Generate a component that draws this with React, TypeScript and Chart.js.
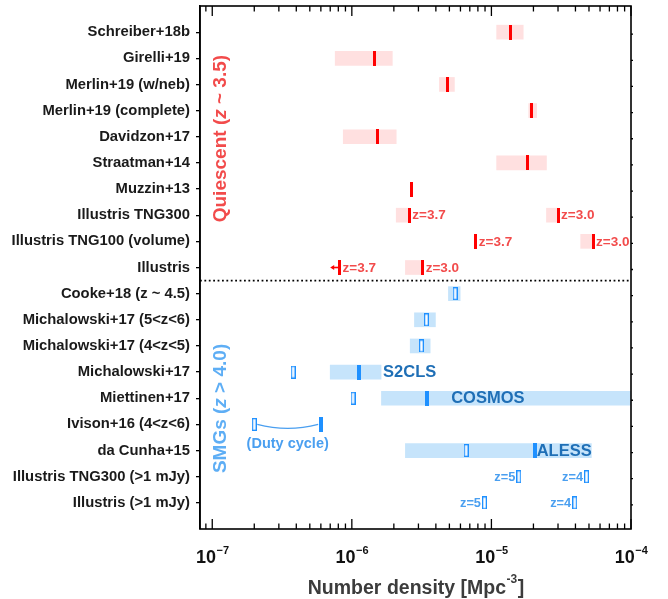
import React, { useEffect, useRef } from 'react';
import { Chart, registerables } from 'chart.js';

Chart.register(...registerables);

// ---------------- data ----------------
const ROWS = [
  'Schreiber+18b',
  'Girelli+19',
  'Merlin+19 (w/neb)',
  'Merlin+19 (complete)',
  'Davidzon+17',
  'Straatman+14',
  'Muzzin+13',
  'Illustris TNG300',
  'Illustris TNG100 (volume)',
  'Illustris',
  'Cooke+18 (z ~ 4.5)',
  'Michalowski+17 (5<z<6)',
  'Michalowski+17 (4<z<5)',
  'Michalowski+17',
  'Miettinen+17',
  'Ivison+16 (4<z<6)',
  'da Cunha+15',
  'Illustris TNG300 (>1 mJy)',
  'Illustris (>1 mJy)',
];

const X_MIN = 8.17e-8;
const X_MAX = 1e-4;
const DECADES = [-7, -6, -5, -4];
const SEPARATOR_AT = 9.5;

// quiescent ranges
const Q_BAND_ROW = [0, 1, 2, 3, 4, 5, 7, 7, 8, 9];
const Q_BAND_LO = [1.09e-5, 7.6e-7, 4.24e-6, 1.85e-5, 8.68e-7, 1.09e-5, 2.08e-6, 2.48e-5, 4.36e-5, 2.42e-6];
const Q_BAND_HI = [1.69e-5, 1.95e-6, 5.43e-6, 2.11e-5, 2.08e-6, 2.48e-5, 2.58e-6, 3.0e-5, 5.35e-5, 3.22e-6];

// quiescent central values
const Q_MARK_ROW = [0, 1, 2, 3, 4, 5, 6, 7, 7, 8, 8, 9, 9];
const Q_MARK_VAL = [1.38e-5, 1.46e-6, 4.86e-6, 1.95e-5, 1.53e-6, 1.8e-5, 2.68e-6, 2.58e-6, 3.0e-5, 7.73e-6, 5.35e-5, 8.16e-7, 3.22e-6];

// upper limit arrow (Illustris z=3.7)
const ARROW_ROW = 9;
const ARROW_FROM = 8.16e-7;
const ARROW_TO = 7.0e-7;

// SMG ranges
const S_BAND_ROW = [10, 11, 12, 13, 14, 16];
const S_BAND_LO = [4.92e-6, 2.81e-6, 2.62e-6, 7.0e-7, 1.63e-6, 2.42e-6];
const S_BAND_HI = [5.97e-6, 3.97e-6, 3.64e-6, 1.62e-6, 1.0e-4, 5.2e-5];

// SMG filled values
const S_FILL_ROW = [13, 14, 15, 16];
const S_FILL_VAL = [1.13e-6, 3.46e-6, 6.03e-7, 2.04e-5];

// SMG open values
const S_OPEN_ROW = [10, 11, 12, 13, 14, 15, 16, 17, 17, 18, 18];
const S_OPEN_VAL = [5.5e-6, 3.42e-6, 3.15e-6, 3.8e-7, 1.02e-6, 2.0e-7, 6.59e-6, 1.57e-5, 4.8e-5, 8.92e-6, 3.95e-5];

// duty-cycle link (Ivison+16)
const DUTY_ROW = 15;
const DUTY_FROM = 2.0e-7;
const DUTY_TO = 6.03e-7;

// text annotations
const LABEL_TEXT = ['z=3.7', 'z=3.0', 'z=3.7', 'z=3.0', 'z=3.7', 'z=3.0', 'S2CLS', 'COSMOS', 'ALESS', 'z=5', 'z=4', 'z=5', 'z=4', '(Duty cycle)'];
const LABEL_ROW = [7, 7, 8, 8, 9, 9, 13, 14, 16, 17, 17, 18, 18, 15.72];
const LABEL_VAL = [2.58e-6, 3.0e-5, 7.73e-6, 5.35e-5, 8.16e-7, 3.22e-6, 1.62e-6, 9.42e-6, 2.04e-5, 1.57e-5, 4.8e-5, 8.92e-6, 3.95e-5, 3.47e-7];
const LABEL_KIND = ['qz', 'qz', 'qz', 'qz', 'qz', 'qz', 'survey', 'surveyC', 'survey', 'smgz', 'smgz', 'smgz', 'smgz', 'note'];

// group labels (rotated)
const GROUP_PRE = ['Quiescent (', 'SMGs ('];
const GROUP_VAR = ['z', 'z'];
const GROUP_POST = [' ~ 3.5)', ' > 4.0)'];
const GROUP_ROW = [4.07, 14.39];

const X_TITLE_MAIN = 'Number density [Mpc';
const X_TITLE_SUP = '-3';
const X_TITLE_END = ']';

// ---------------- styles ----------------
const FONT = "'Liberation Sans', Arial, Helvetica, sans-serif";
const RED = '#ff0000';
const RED_BAND = '#ffe0e0';
const RED_TEXT = '#f24b4b';
const BLUE = '#1e90ff';
const BLUE_BAND = '#c6e4fb';
const BLUE_DARK = '#1f6fb6';
const BLUE_TEXT = '#4a9ff0';
const BLUE_GROUP = '#5eaef5';

const KIND_STYLE: Record<string, { font: string; color: string; align: CanvasTextAlign; dx: number }> = {
  qz: { font: `bold 13.5px ${FONT}`, color: RED_TEXT, align: 'left', dx: 3 },
  survey: { font: `bold 16.5px ${FONT}`, color: BLUE_DARK, align: 'left', dx: 2 },
  surveyC: { font: `bold 16.5px ${FONT}`, color: BLUE_DARK, align: 'center', dx: 0 },
  smgz: { font: `bold 12.8px ${FONT}`, color: BLUE_TEXT, align: 'right', dx: -3.5 },
  note: { font: `bold 14.5px ${FONT}`, color: BLUE_TEXT, align: 'center', dx: 0 },
};

function rectImage(w: number, h: number, fill: string, stroke?: string) {
  const c = document.createElement('canvas');
  c.width = w;
  c.height = h;
  const g = c.getContext('2d')!;
  if (stroke) {
    g.fillStyle = '#ffffff';
    g.fillRect(0, 0, w, h);
    g.strokeStyle = stroke;
    g.lineWidth = 1.3;
    g.strokeRect(0.65, 0.65, w - 1.3, h - 1.3);
  } else {
    g.fillStyle = fill;
    g.fillRect(0, 0, w, h);
  }
  return c;
}

export default function App() {
  const ref = useRef<HTMLCanvasElement>(null);

  useEffect(() => {
    const canvas = ref.current!;
    const redMark = rectImage(3, 15, RED);
    const blueMark = rectImage(4, 15, BLUE);
    const blueOpen = rectImage(5, 13, '', BLUE);

    const overlay = {
      id: 'overlay',
      afterDraw(chart: any) {
        const { ctx, chartArea: a, scales } = chart;
        const xs = scales.x;
        const ys = scales.y;
        ctx.save();

        // separator
        const ySep = ys.getPixelForValue(SEPARATOR_AT);
        ctx.strokeStyle = '#000';
        ctx.setLineDash([1.8, 2.6]);
        ctx.lineWidth = 1.8;
        ctx.beginPath();
        ctx.moveTo(a.left, ySep);
        ctx.lineTo(a.right, ySep);
        ctx.stroke();
        ctx.setLineDash([]);

        // arrow (upper limit)
        const ay = ys.getPixelForValue(ARROW_ROW);
        const ax0 = xs.getPixelForValue(ARROW_FROM);
        const ax1 = xs.getPixelForValue(ARROW_TO);
        ctx.strokeStyle = RED;
        ctx.fillStyle = RED;
        ctx.lineWidth = 1.6;
        ctx.beginPath();
        ctx.moveTo(ax0, ay);
        ctx.lineTo(ax1 + 2, ay);
        ctx.stroke();
        ctx.beginPath();
        ctx.moveTo(ax1, ay);
        ctx.lineTo(ax1 + 4, ay - 2.5);
        ctx.lineTo(ax1 + 4, ay + 2.5);
        ctx.closePath();
        ctx.fill();

        // duty cycle arc
        const dy = ys.getPixelForValue(DUTY_ROW);
        const dx0 = xs.getPixelForValue(DUTY_FROM) + 3;
        const dx1 = xs.getPixelForValue(DUTY_TO) - 3;
        ctx.strokeStyle = BLUE_TEXT;
        ctx.lineWidth = 1.3;
        ctx.beginPath();
        ctx.moveTo(dx0, dy);
        ctx.quadraticCurveTo((dx0 + dx1) / 2, dy + 8, dx1, dy);
        ctx.stroke();

        // text annotations
        ctx.textBaseline = 'middle';
        LABEL_TEXT.forEach((t, i) => {
          const st = KIND_STYLE[LABEL_KIND[i]];
          ctx.font = st.font;
          ctx.fillStyle = st.color;
          ctx.textAlign = st.align;
          ctx.fillText(t, xs.getPixelForValue(LABEL_VAL[i]) + st.dx, ys.getPixelForValue(LABEL_ROW[i]) + 0.5);
        });

        // group labels
        const groupColors = [RED_TEXT, BLUE_GROUP];
        GROUP_PRE.forEach((pre, i) => {
          const normal = `bold 19px ${FONT}`;
          const ital = `italic bold 19px ${FONT}`;
          ctx.font = normal;
          const w1 = ctx.measureText(pre).width;
          const w3 = ctx.measureText(GROUP_POST[i]).width;
          ctx.font = ital;
          const w2 = ctx.measureText(GROUP_VAR[i]).width;
          const total = w1 + w2 + w3;
          ctx.save();
          ctx.translate(a.left + 21, ys.getPixelForValue(GROUP_ROW[i]));
          ctx.rotate(-Math.PI / 2);
          ctx.fillStyle = groupColors[i];
          ctx.textAlign = 'left';
          ctx.textBaseline = 'middle';
          let x = -total / 2;
          ctx.font = normal;
          ctx.fillText(pre, x, 0);
          x += w1;
          ctx.font = ital;
          ctx.fillText(GROUP_VAR[i], x, 0);
          x += w2;
          ctx.font = normal;
          ctx.fillText(GROUP_POST[i], x, 0);
          ctx.restore();
        });

        // frame
        ctx.strokeStyle = '#000';
        ctx.lineWidth = 1.6;
        ctx.strokeRect(a.left, a.top, a.right - a.left, a.bottom - a.top);

        // x ticks (inward, top and bottom)
        ctx.lineWidth = 1.3;
        ctx.beginPath();
        for (let d = -8; d <= -4; d++) {
          for (let m = 1; m <= 9; m++) {
            const v = m * Math.pow(10, d);
            if (v < X_MIN * 0.999 || v > X_MAX * 1.001) continue;
            const px = xs.getPixelForValue(v);
            const len = m === 1 ? 10 : 5.5;
            ctx.moveTo(px, a.bottom);
            ctx.lineTo(px, a.bottom - len);
            ctx.moveTo(px, a.top);
            ctx.lineTo(px, a.top + len);
          }
        }
        // right-side row ticks
        ROWS.forEach((_, i) => {
          const py = ys.getPixelForValue(i) + 2;
          ctx.moveTo(a.right, py);
          ctx.lineTo(a.right + 2, py);
        });
        ctx.stroke();

        // x tick labels with superscripts
        ctx.fillStyle = '#111';
        ctx.textAlign = 'left';
        ctx.textBaseline = 'alphabetic';
        DECADES.forEach((d) => {
          const px = xs.getPixelForValue(Math.pow(10, d));
          ctx.font = `bold 18px ${FONT}`;
          const wb = ctx.measureText('10').width;
          const exp = '\u2212' + String(-d);
          ctx.font = `bold 11px ${FONT}`;
          const we = ctx.measureText(exp).width;
          const x0 = px - (wb + we) / 2;
          ctx.font = `bold 18px ${FONT}`;
          ctx.fillText('10', x0, 563);
          ctx.font = `bold 11px ${FONT}`;
          ctx.fillText(exp, x0 + wb + 0.5, 554);
        });

        // x title
        ctx.fillStyle = '#3c3c3c';
        ctx.font = `bold 19.5px ${FONT}`;
        const t1 = ctx.measureText(X_TITLE_MAIN).width;
        const t3 = ctx.measureText(X_TITLE_END).width;
        ctx.font = `bold 12px ${FONT}`;
        const t2 = ctx.measureText(X_TITLE_SUP).width;
        const cx = (a.left + a.right) / 2;
        let tx = cx - (t1 + t2 + t3) / 2;
        ctx.font = `bold 19.5px ${FONT}`;
        ctx.fillText(X_TITLE_MAIN, tx, 594);
        tx += t1;
        ctx.font = `bold 12px ${FONT}`;
        ctx.fillText(X_TITLE_SUP, tx + 0.5, 583);
        tx += t2 + 1;
        ctx.font = `bold 19.5px ${FONT}`;
        ctx.fillText(X_TITLE_END, tx, 594);

        ctx.restore();
      },
    };

    const chart = new Chart(canvas, {
      type: 'bar',
      data: {
        datasets: [
          {
            type: 'scatter',
            data: Q_MARK_ROW.map((r, i) => ({ x: Q_MARK_VAL[i], y: r })),
            pointStyle: redMark,
            pointRadius: 5,
            order: 0,
          } as any,
          {
            type: 'scatter',
            data: S_FILL_ROW.map((r, i) => ({ x: S_FILL_VAL[i], y: r })),
            pointStyle: blueMark,
            pointRadius: 5,
            order: 0,
          } as any,
          {
            type: 'scatter',
            data: S_OPEN_ROW.map((r, i) => ({ x: S_OPEN_VAL[i], y: r })),
            pointStyle: blueOpen,
            pointRadius: 5,
            order: 0,
          } as any,
          {
            type: 'bar',
            indexAxis: 'y',
            data: Q_BAND_ROW.map((r, i) => ({ y: r, x: [Q_BAND_LO[i], Q_BAND_HI[i]] })),
            backgroundColor: RED_BAND,
            borderWidth: 0,
            barThickness: 14,
            grouped: false,
            order: 1,
          } as any,
          {
            type: 'bar',
            indexAxis: 'y',
            data: S_BAND_ROW.map((r, i) => ({ y: r, x: [S_BAND_LO[i], S_BAND_HI[i]] })),
            backgroundColor: BLUE_BAND,
            borderWidth: 0,
            barThickness: 14,
            grouped: false,
            order: 1,
          } as any,
        ],
      },
      options: {
        animation: false,
        responsive: false,
        events: [],
        layout: { padding: { top: 4, right: 37, bottom: 0, left: 0 } },
        plugins: { legend: { display: false }, tooltip: { enabled: false } },
        scales: {
          x: {
            type: 'logarithmic',
            min: X_MIN,
            max: X_MAX,
            bounds: 'data',
            offset: false,
            grid: { display: false, offset: false },
            border: { display: false },
            ticks: { display: false },
            afterFit: (s: any) => {
              s.height = 70;
              s.paddingLeft = 0;
              s.paddingRight = 0;
            },
          },
          y: {
            type: 'linear',
            min: -1,
            max: ROWS.length,
            reverse: true,
            bounds: 'data',
            offset: false,
            border: { display: true, color: '#000', width: 1.6 },
            grid: { offset: false, drawOnChartArea: false, drawTicks: true, tickLength: 4, color: '#000', lineWidth: 1.3 },
            afterBuildTicks: (s: any) => {
              s.ticks = ROWS.map((_, i) => ({ value: i }));
            },
            ticks: {
              autoSkip: false,
              padding: 6,
              color: '#1a1a1a',
              font: { family: FONT, size: 14.8, weight: 'bold' },
              callback: (v: any) => ROWS[v as number] ?? '',
            },
            afterFit: (s: any) => {
              s.width = 200;
              s.paddingTop = 0;
              s.paddingBottom = 0;
            },
          },
        },
      } as any,
      plugins: [overlay],
    });

    return () => chart.destroy();
  }, []);

  return (
    <div style={{ position: 'fixed', left: 0, top: 0, width: 668, height: 599, background: '#fff' }}>
      <canvas ref={ref} width={668} height={599} style={{ display: 'block', width: 668, height: 599 }} />
    </div>
  );
}
